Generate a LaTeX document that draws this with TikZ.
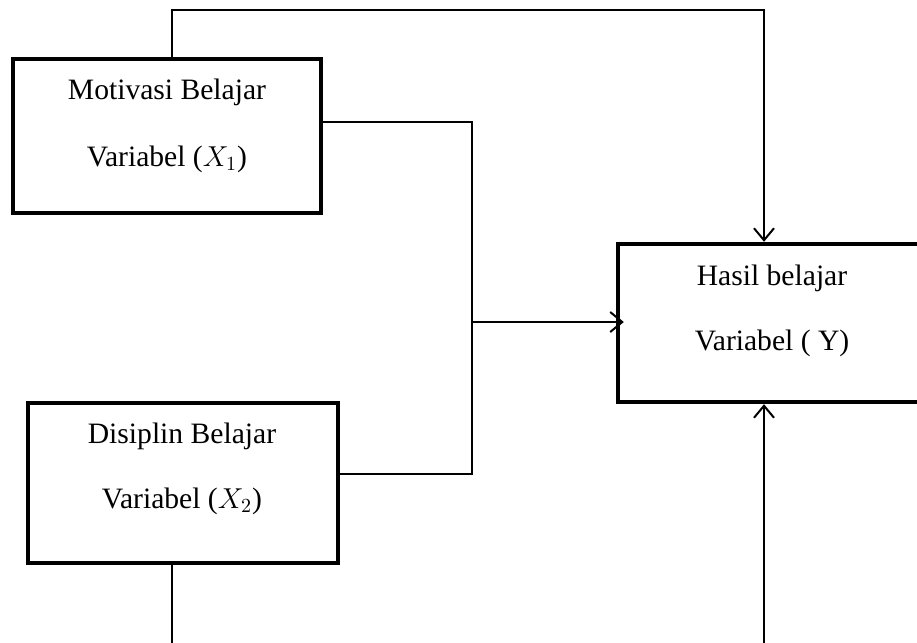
\documentclass[tikz,border=0pt]{standalone}
\usepackage{fontspec}
\setmainfont{Liberation Serif}
\usetikzlibrary{arrows.meta}

\begin{document}
\begin{tikzpicture}[x=0.5pt, y=-0.5pt, line width=1pt,
    varbox/.style = {draw, line width=2.2pt, inner sep=0pt, minimum width=154pt, minimum height=77pt},
    teks/.style = {font=\fontsize{14.8}{17}\selectfont, inner sep=0pt, anchor=base},
    arr/.style = {-{Straight Barb[length=6pt, width=10pt]}}]
    \useasboundingbox (0,0) rectangle (917,643);
    \clip (0,0) rectangle (917,643);
    % kotak variabel
    \node[varbox] (mot) at (167,136) {};
    \node[varbox, minimum width=155pt, minimum height=80pt] (dis) at (183,483) {};
    \node[varbox, minimum height=79pt] (hasil) at (772,323) {};
    \node[teks] (mot1) at (167,99) {Motivasi Belajar};
    \node[teks] (mot2) at (167,166) {Variabel ($X_1$)};
    \node[teks] (dis1) at (182,443) {Disiplin Belajar};
    \node[teks] (dis2) at (182,508) {Variabel ($X_2$)};
    \node[teks] (hasil1) at (772,285) {Hasil belajar};
    \node[teks] (hasil2) at (772,350) {Variabel ( Y)};
    % titik belok
    \coordinate (sudut1) at (172,10);
    \coordinate (sudut2) at (764,10);
    \coordinate (simpul) at (472,322);
    \coordinate (sudut3) at (172,700);
    \coordinate (sudut4) at (764,700);
    % garis
    \draw[arr] (mot.north -| sudut1) -- (sudut1) -- (sudut2) -- (hasil.north -| sudut2);
    \draw ([yshift=7pt]mot.east) -| (simpul) |- ([yshift=4.5pt]dis.east);
    \draw[arr, shorten >=-4pt] (simpul) -- (hasil.west |- simpul);
    \draw[arr] (dis.south -| sudut3) -- (sudut3) -- (sudut4) -- (hasil.south -| sudut4);
\end{tikzpicture}
\end{document}
